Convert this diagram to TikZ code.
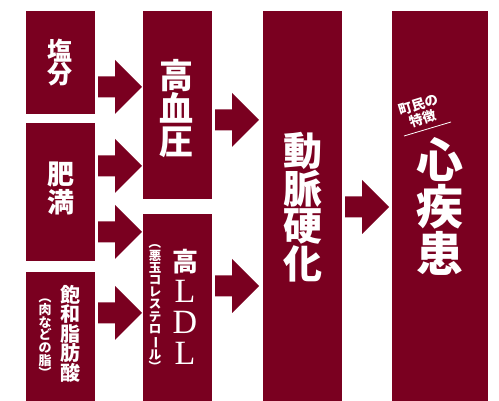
\documentclass[tikz,border=0pt]{standalone}
\usepackage{fontspec}
\newfontfamily\cjk{Noto Sans CJK JP}
\newfontfamily\serifL{Liberation Serif}
\usetikzlibrary{calc}
\definecolor{wine}{HTML}{7A0020}
\newcommand{\vglyph}[1]{\rotatebox[origin=c]{-90}{#1}}
\begin{document}
\begin{tikzpicture}[x=1pt,y=-1pt,
  box/.style={fill=wine, draw=none, inner sep=0pt, outer sep=0pt},
  vt/.style 2 args={text=white, align=center, inner sep=0pt, font=\cjk\bfseries\fontsize{#1}{#2}\selectfont},
  pics/blockarrow/.style={code={\fill[wine] (0,-10.5)--(17,-10.5)--(17,-27)--(44,0)--(17,27)--(17,10.5)--(0,10.5)--cycle;}}]
\useasboundingbox (0,0) rectangle (499,401);
% boxes
\node[box, minimum width=69, minimum height=103] (salt) at (60.5,62.5) {};
\node[box, minimum width=69, minimum height=138] (obes) at (60.5,192) {};
\node[box, minimum width=69, minimum height=129] (fat) at (60.5,336.5) {};
\node[box, minimum width=69, minimum height=188] (htn) at (177.5,105) {};
\node[box, minimum width=69, minimum height=187] (ldl) at (177.5,307.5) {};
\node[box, minimum width=79, minimum height=390] (ath) at (302.5,206) {};
\node[box, minimum width=96, minimum height=390] (heart) at (440,206) {};
% arrows
\pic at ($(salt.east)+(3,24.5)$) {blockarrow};
\pic at ($(obes.east)+(3,-26)$) {blockarrow};
\pic at ($(obes.east)+(3,40)$) {blockarrow};
\pic at ($(fat.east)+(3,-23.5)$) {blockarrow};
\pic at ($(htn.east)+(3,15)$) {blockarrow};
\pic at ($(ldl.east)+(3,-21.5)$) {blockarrow};
\pic at ($(ath.east)+(3,1)$) {blockarrow};
% texts
\node[vt={25}{23.5}] (tsalt) at (60.5,62.5) {塩\\分};
\node[vt={27}{27.5}] (tobes) at (60.5,188.5) {肥\\満};
\node[vt={20}{19.5}] (tfat) at (70,333.5) {飽\\和\\脂\\肪\\酸};
\node[vt={13}{12.8}] (tfatsub) at (45,335) {\vglyph{（}\\肉\\な\\ど\\の\\脂\\\vglyph{）}};
\node[vt={34}{33}] (thtn) at (176,108.5) {高\\血\\圧};
\node[vt={26}{31}] (tldl) at (185,306.5) {高\\{\serifL\mdseries\fontsize{34}{31}\selectfont L}\\{\serifL\mdseries\fontsize{34}{31}\selectfont D}\\{\serifL\mdseries\fontsize{34}{31}\selectfont L}};
\node[vt={12.5}{12.2}] (tldlsub) at (155,305) {\vglyph{（}\\悪\\玉\\コ\\レ\\ス\\テ\\ロ\\\vglyph{ー}\\ル\\\vglyph{）}};
\node[vt={39}{37.5}] (tath) at (303,207) {動\\脈\\硬\\化};
\node[vt={47}{47}] (theart) at (440,206) {心\\疾\\患};
\node[vt={13.5}{14.5}, rotate=17] (town) at (421,112) {町民の\\特徴};
\coordinate (ulA) at (404,136);
\coordinate (ulB) at (451,122);
\draw[white, line width=0.8pt] (ulA) -- (ulB);
\end{tikzpicture}
\end{document}
